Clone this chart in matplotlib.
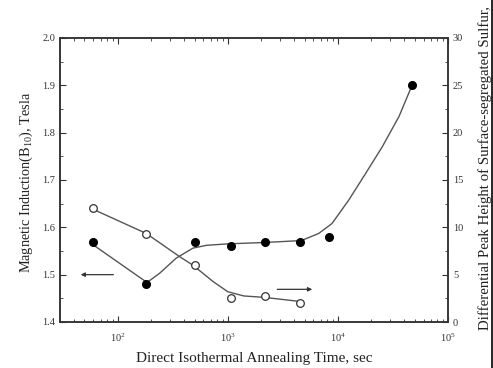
import matplotlib
matplotlib.use("Agg")
import matplotlib.pyplot as plt
from matplotlib.lines import Line2D
from matplotlib.ticker import LogLocator, MultipleLocator, NullFormatter

plt.rcParams['font.family'] = ['Liberation Serif', 'DejaVu Serif']
plt.rcParams['mathtext.fontset'] = 'custom'
plt.rcParams['mathtext.rm'] = 'Liberation Serif'
plt.rcParams['mathtext.it'] = 'Liberation Serif:italic'

# Data: magnetic induction (filled, left axis)
time_b = [60, 180, 500, 1070, 2180, 4560, 8300, 47000]
b10 = [1.57, 1.48, 1.57, 1.56, 1.57, 1.57, 1.58, 1.90]
# Fitted curve
curve_b_x = [60, 176, 189, 241, 341, 483, 643, 1000, 2200, 4670, 6700, 8850, 12600, 17900, 25300, 35900, 47000]
curve_b_y = [1.563, 1.487, 1.485, 1.503, 1.535, 1.556, 1.562, 1.565, 1.568, 1.572, 1.587, 1.608, 1.658, 1.714, 1.770, 1.834, 1.899]

# Data: sulfur peak height (open, right axis)
time_s = [60, 180, 500, 1070, 2180, 4560]
sulfur = [12.0, 9.25, 6.0, 2.5, 2.75, 2.0]
curve_s_x = [60, 182, 366, 483, 740, 1000, 1400, 2150, 4670]
curve_s_y = [11.9, 9.35, 6.9, 6.0, 4.25, 3.2, 2.75, 2.6, 2.15]

fig = plt.figure(figsize=(4.93, 3.68), dpi=100)
ax = fig.add_axes([0.1217, 0.125, 0.787, 0.772])
ax2 = ax.twinx()

line_col = '#555555'
ax.plot(curve_b_x, curve_b_y, color=line_col, lw=1.0)
ax.plot(time_b, b10, 'o', color='black', ms=5.5, zorder=5)
ax2.plot(curve_s_x, curve_s_y, color=line_col, lw=1.0)
ax2.plot(time_s, sulfur, 'o', mfc='white', mec='#333333', mew=0.9, ms=5.5, zorder=5)

ax.set_xscale('log')
ax.set_xlim(30, 1e5)
ax.set_ylim(1.4, 2.0)
ax2.set_ylim(0, 30)

ax.yaxis.set_major_locator(MultipleLocator(0.1))
ax.yaxis.set_minor_locator(MultipleLocator(0.05))
ax.yaxis.set_major_formatter(plt.FuncFormatter(lambda v, p: f"{v:.1f}"))
ax2.yaxis.set_major_locator(MultipleLocator(5))
ax2.yaxis.set_minor_locator(MultipleLocator(2.5))
ax.xaxis.set_major_locator(LogLocator(base=10, numticks=10))
ax.xaxis.set_minor_locator(LogLocator(base=10, subs=range(2, 10), numticks=20))
ax.xaxis.set_minor_formatter(NullFormatter())

for a in (ax, ax2):
    a.tick_params(which='both', direction='in', labelsize=7.5, colors='#333333')
    a.tick_params(which='major', length=4)
    a.tick_params(which='minor', length=2.5)
    for s in a.spines.values():
        s.set_linewidth(1.1)
        s.set_color('#333333')
ax.tick_params(axis='x', which='both', top=True)
ax.tick_params(axis='y', which='both', right=False)
ax.tick_params(axis='x', pad=7)

ax.set_xlabel('Direct Isothermal Annealing Time, sec', fontsize=11, color='#222222', labelpad=6)
fig.text(0.053, 0.505, r'Magnetic Induction(B$_{10}$), Tesla', rotation=90,
         ha='center', va='center', fontsize=10.3, color='#222222')
fig.text(0.985, 0.103, 'Differential Peak Height of Surface-segregated Sulfur,', rotation=90,
         ha='center', va='bottom', fontsize=10.7, color='#222222')

# arrows
ax.annotate('', xy=(43.6, 1.5), xytext=(97, 1.5),
            arrowprops=dict(arrowstyle='-|>', color='#333333', lw=0.9, mutation_scale=6))
ax2.annotate('', xy=(6200, 3.45), xytext=(2660, 3.45),
            arrowprops=dict(arrowstyle='-|>', color='#333333', lw=0.9, mutation_scale=6))

fig.add_artist(Line2D([0.998, 0.998], [0, 1], transform=fig.transFigure, color='black', lw=1.2))

fig.savefig('out.png', dpi=100)
